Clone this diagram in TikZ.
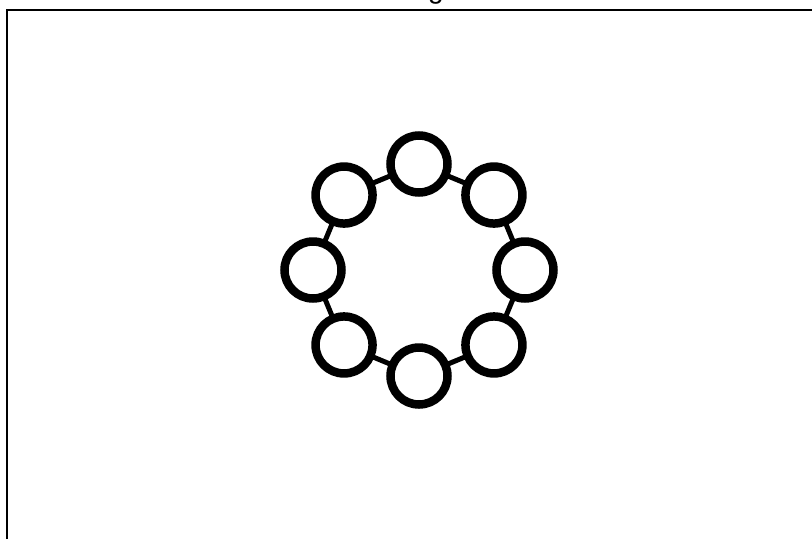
\documentclass[tikz,border=0pt]{standalone}
\usepackage{fontspec}
\setmainfont{Liberation Sans}
\usepackage{tikz}
\usetikzlibrary{positioning}

\begin{document}
\begin{tikzpicture}[x=1pt,y=-1pt,bead/.style={circle,draw,line width=8.5pt,fill=white,minimum size=57pt,inner sep=0pt},link/.style={line width=5pt}]
    \useasboundingbox (0,0) rectangle (812,539);
    \fill[white] (0,0) rectangle (812,539);
    % frame and title remnant
    \draw[line width=2pt] (7,539) -- (7,10) -- (812,10);
    \node[anchor=base,font=\fontsize{28}{30}\selectfont,inner sep=0pt] (title) at (436,-2) {g};

    \coordinate (mid) at (419,270);
    \foreach \i in {0,...,7}
        \path (mid) ++({\i*45}:106) coordinate (p\i);
    \foreach \i [evaluate=\i as \j using {int(mod(\i+1,8))}] in {0,...,7}
        \draw[link] (p\i) -- (p\j);
    \foreach \i in {0,...,7}
        \node[bead] (c\i) at (p\i) {};
\end{tikzpicture}
\end{document}
